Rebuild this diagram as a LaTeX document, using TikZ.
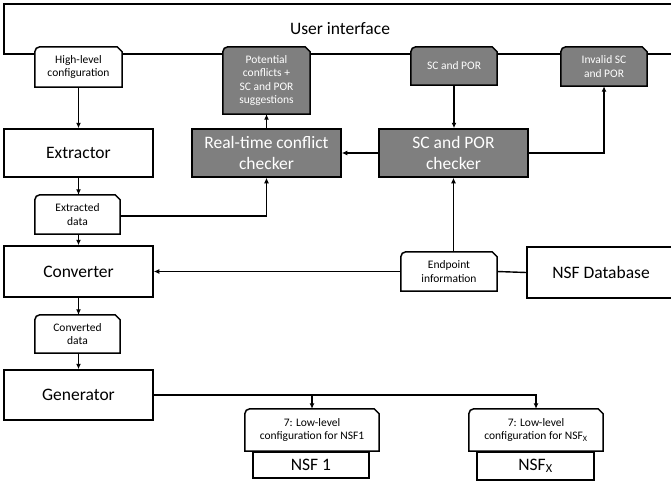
\documentclass[tikz,border=0pt]{standalone}
\usepackage{fontspec}
\setmainfont{Carlito}
\usetikzlibrary{arrows.meta,backgrounds}
\definecolor{boxgray}{RGB}{127,127,127}
\tikzset{
  bigbox/.style={draw, line width=1.5pt, fill=white, inner sep=0pt, align=center,
    font=\fontsize{17.5}{21}\selectfont},
  graybox/.style={bigbox, fill=boxgray, text=white},
  tabtext/.style={inner sep=0pt, align=center, font=\fontsize{11.5}{13.5}\selectfont},
  graytab/.style={tabtext, text=white},
  tabline/.style={draw, line width=1.5pt},
  conn/.style={line width=1.4pt, -{Latex[length=5.5pt,width=5pt]}},
  plain/.style={line width=1.4pt}
}
\begin{document}
\begin{tikzpicture}[x=1pt,y=-1pt]
\useasboundingbox (0,0) rectangle (671,485);

% user interface
\node[minimum width=676pt, minimum height=50pt, inner sep=0pt] (ui) at (342,29) {};
\node[font=\fontsize{17.5}{21}\selectfont] (uitext) at (340,29) {User interface};

% tabs (text only; outlines on background)
\node[tabtext, minimum width=87pt, minimum height=40pt] (hlc) at (78.5,67) {High-level\\configuration};
\node[graytab, minimum width=87pt, minimum height=67pt] (pc) at (266.5,80.5) {Potential\\conflicts +\\SC and POR\\suggestions};
\node[graytab, minimum width=86pt, minimum height=38pt] (scp) at (454,66) {SC and POR};
\node[graytab, minimum width=86pt, minimum height=39pt] (inv) at (604,66.5) {Invalid SC\\and POR};
\node[tabtext, minimum width=85pt, minimum height=39pt] (ext) at (77.5,214.5) {Extracted\\data};
\node[tabtext, minimum width=96pt, minimum height=39pt] (ep) at (449,271.5) {Endpoint\\information};
\node[tabtext, minimum width=85pt, minimum height=38pt] (cvd) at (77.5,334) {Converted\\data};
\node[tabtext, minimum width=134pt, minimum height=42pt] (t1) at (312,430) {7: Low-level\\configuration for NSF1};
\node[tabtext, minimum width=134pt, minimum height=42pt] (tx) at (536,430) {7: Low-level\\configuration for NSF\textsubscript{X}};

% main boxes
\node[bigbox, minimum width=149pt, minimum height=48pt] (extr) at (78.5,153) {Extractor};
\node[graybox, minimum width=149pt, minimum height=48pt] (rt) at (266.5,153) {Real-time conflict\\checker};
\node[graybox, minimum width=149pt, minimum height=48pt] (chk) at (453.5,153) {SC and POR\\checker};
\node[bigbox, minimum width=149pt, minimum height=51pt] (conv) at (78.5,271.5) {Converter};
\node[bigbox, minimum width=148pt, minimum height=51pt] (db) at (601,272.5) {NSF Database};
\node[bigbox, minimum width=149pt, minimum height=50pt] (gen) at (78.5,395) {Generator};
\node[bigbox, minimum width=116pt, minimum height=26pt, anchor=north] (n1) at (311,451) {NSF 1};
\node[bigbox, minimum width=117pt, minimum height=28pt, anchor=north] (nx) at (535.5,451) {NSF\textsubscript{X}};

\begin{scope}[on background layer]
  \fill[white] (0,0) rectangle (671,485);
  \draw[line width=1.5pt] (ui.south east) -- (ui.south west) -- (ui.north west) -- (ui.north east);
  \foreach \n/\f in {hlc/white, pc/boxgray, scp/boxgray, inv/boxgray, ext/white, ep/white, cvd/white, t1/white, tx/white}
    \draw[tabline, fill=\f] (\n.south west) -- ([yshift=-5pt]\n.north west)
      arc[start angle=180, end angle=90, radius=5pt]
      -- ([xshift=-5pt]\n.north east) -- ([yshift=-5pt]\n.north east)
      -- (\n.south east) -- cycle;
\end{scope}

% connectors
\draw[conn] (hlc.south -| extr.north) -- (extr.north);
\draw[conn] (rt.north) -- (rt.north |- pc.south);
\draw[conn] (scp.south) -- (scp.south |- chk.north);
\coordinate (cinv) at (inv.south |- chk.east);
\draw[conn] (chk.east) -- (cinv) -- (inv.south);
\draw[conn] (chk.west) -- (rt.east);
\draw[conn] (extr.south) -- (extr.south |- ext.north);
\coordinate (crt) at (rt.south |- 0,216);
\draw[conn] (ext.east |- crt) -- (crt) -- (rt.south);
\draw[conn] (ext.south -| extr.south) -- (conv.north);
\draw[conn] (ep.west) -- (ep.west -| conv.east);
\draw[conn] (ep.north -| chk.south) -- (chk.south);
\draw[plain] (db.west) -- (ep.east);
\draw[conn] (conv.south) -- (conv.south |- cvd.north);
\draw[conn] (cvd.south -| conv.south) -- (gen.north);
\coordinate (gx) at (tx.north |- gen.east);
\coordinate (g1) at (t1.north |- gen.east);
\draw[conn] (gen.east) -- (gx) -- (tx.north);
\draw[conn] (g1) -- (t1.north);
\end{tikzpicture}
\end{document}
